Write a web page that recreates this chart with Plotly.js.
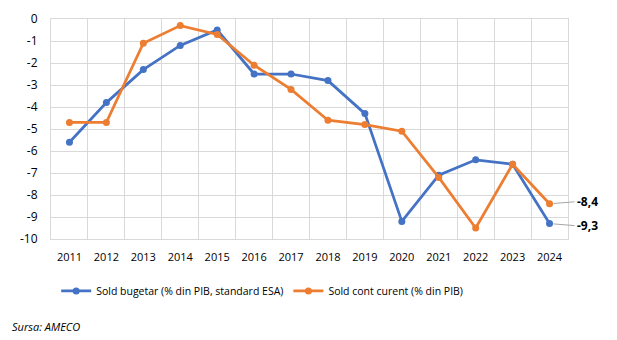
<!DOCTYPE html>
<html><head><meta charset="utf-8">
<script src="https://cdn.plot.ly/plotly-3.0.1.min.js"></script>
<style>html,body{margin:0;padding:0;background:#fff}#c{width:617px;height:340px}</style>
</head><body><div id="c"></div>
<script>
var years = ['2011','2012','2013','2014','2015','2016','2017','2018','2019','2020','2021','2022','2023','2024'];
var soldBugetar = [-5.6,-3.8,-2.3,-1.2,-0.5,-2.5,-2.5,-2.8,-4.3,-9.2,-7.1,-6.4,-6.6,-9.3];
var soldCont = [-4.7,-4.7,-1.1,-0.3,-0.7,-2.1,-3.2,-4.6,-4.8,-5.1,-7.2,-9.5,-6.6,-8.4];
var seriesNames = ['Sold bugetar (% din PIB, standard ESA)','Sold cont curent (% din PIB)'];
var yTicks = [0,-1,-2,-3,-4,-5,-6,-7,-8,-9,-10];
var font = 'Open Sans, Noto Sans, sans-serif';
var blue = '#4472C4', orange = '#ED7D31';
function fmt(v){return String(v).replace('.',',');}
var traces = [
 {x: years, y: soldBugetar, name: seriesNames[0], type:'scatter', mode:'lines+markers',
  line:{color:blue,width:2.75}, marker:{color:blue,size:7}},
 {x: years, y: soldCont, name: seriesNames[1], type:'scatter', mode:'lines+markers',
  line:{color:orange,width:2.75}, marker:{color:orange,size:7}}
];
var last = years.length-1;
var layout = {
 width:617, height:340, margin:{l:51,r:49,t:19,b:101},
 paper_bgcolor:'#fff', plot_bgcolor:'#fff',
 font:{family:font, size:11, color:'#000'},
 showlegend:true,
 xaxis:{type:'category', tickson:'boundaries', range:[-0.5,13.5], showgrid:true, gridcolor:'#d9d9d9', gridwidth:1,
   showline:true, linecolor:'#d9d9d9', mirror:true, ticks:'', ticklabelstandoff:8, tickfont:{size:11,family:font}},
 yaxis:{range:[-10,0], tickvals:yTicks, ticktext:yTicks.map(fmt), showgrid:true, gridcolor:'#d9d9d9', gridwidth:1,
   showline:true, linecolor:'#d9d9d9', mirror:true, zeroline:false, ticks:'', ticklabelstandoff:10, tickfont:{size:12,family:font}},
 legend:{orientation:'h', x:0.01, xanchor:'left', y:-0.236, yanchor:'middle', font:{size:10.5,family:font}, tracegroupgap:0},
 annotations:[
  {x: last, y: soldCont[last], xref:'x', yref:'y', text:'<b>'+fmt(soldCont[last])+'</b>', showarrow:true, arrowhead:0, arrowwidth:1, arrowcolor:'#a6a6a6', ax:25, ay:-2, standoff:4, xanchor:'left', font:{size:12,family:font}},
  {x: last, y: soldBugetar[last], xref:'x', yref:'y', text:'<b>'+fmt(soldBugetar[last])+'</b>', showarrow:true, arrowhead:0, arrowwidth:1, arrowcolor:'#a6a6a6', ax:25, ay:2, standoff:4, xanchor:'left', font:{size:12,family:font}},
  {x:0, y:0, xref:'paper', yref:'paper', xshift:-41, yshift:-87, text:'<i>Sursa: AMECO</i>', showarrow:false, xanchor:'left', yanchor:'middle', font:{size:11,family:font}}
 ]
};
Plotly.newPlot('c', traces, layout, {displayModeBar:false, staticPlot:true});
</script></body></html>
